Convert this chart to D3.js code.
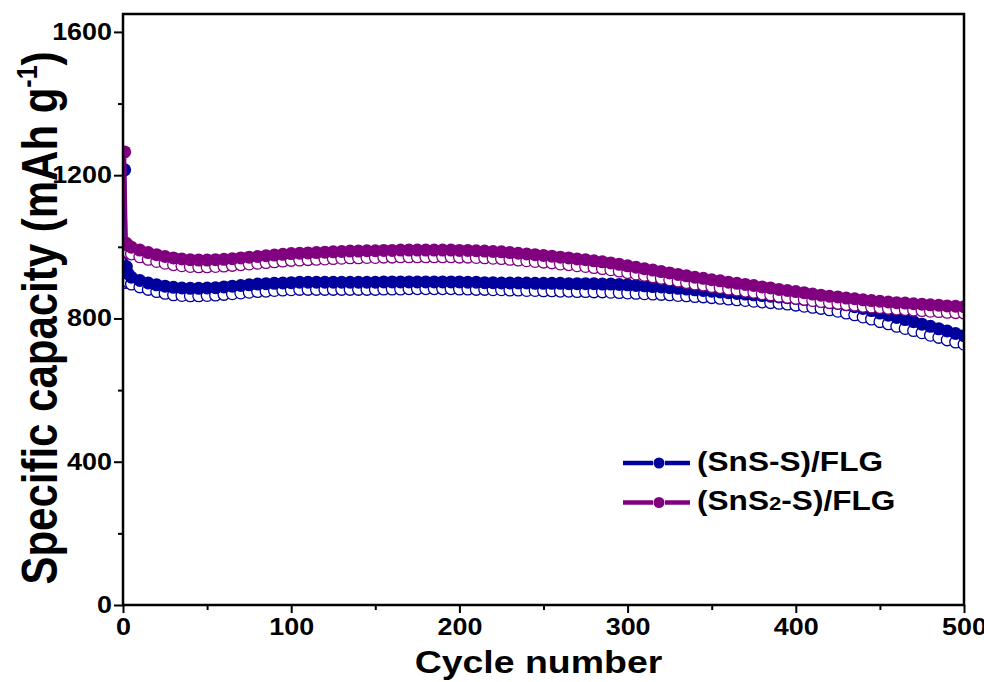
<!DOCTYPE html>
<html>
<head>
<meta charset="utf-8">
<script src="https://cdn.jsdelivr.net/npm/d3@7"></script>
<style>
  body { margin: 0; background: #fff; }
  svg text { font-family: "Liberation Sans", Arial, sans-serif; font-weight: bold; fill: #000; }
</style>
</head>
<body>
<div id="chart"></div>
<script>
// cycle grid (cycles 1,2,3 then every 5th cycle)
const cycles = [1, 2, 3].concat(d3.range(5, 501, 5));

// (SnS-S)/FLG, filled symbols
const snsFilled = [1215,945,925,915,906,899,894,890,887,885,884,884,
  885,886,888,890,892,894,896,897,898,899,
  900,901,901,901,901,901,901,901,901,901,
  901,902,902,902,902,902,902,902,902,902,
  902,901,901,900,900,899,899,899,899,898,
  898,898,898,897,897,897,897,896,896,895,
  894,892,891,889,888,886,884,882,880,878,
  876,874,872,870,868,866,864,862,860,858,
  856,853,851,848,845,842,838,833,828,822,
  815,809,803,797,791,784,778,771,765,758,
  752];

// (SnS-S)/FLG, open symbols
const snsOpen = [900,905,902,896,888,881,875,870,866,864,863,863,
  864,865,867,869,871,873,875,876,878,879,
  880,881,881,881,881,881,881,881,881,881,
  881,882,882,882,883,883,883,883,883,883,
  882,882,881,881,880,880,879,879,878,878,
  877,877,876,876,875,875,874,874,873,872,
  871,870,869,868,867,866,864,863,861,860,
  858,856,854,852,850,848,846,844,842,840,
  837,834,831,828,824,820,815,810,804,798,
  791,785,778,772,766,760,753,747,740,734,
  728];

// (SnS2-S)/FLG, filled symbols
const sns2Filled = [1265,1010,1004,999,991,984,978,973,969,966,964,963,
  963,964,965,967,969,971,973,975,977,979,
  981,982,983,984,985,986,987,988,988,989,
  989,990,990,991,991,991,991,991,991,991,
  990,990,989,988,987,986,984,982,980,978,
  976,974,971,969,966,964,961,958,955,951,
  947,943,939,935,931,927,923,919,915,912,
  908,905,901,898,895,892,888,885,881,878,
  875,872,868,865,862,860,857,855,852,850,
  848,846,844,843,841,840,838,837,835,834,
  833];

// (SnS2-S)/FLG, open symbols
const sns2Open = [985,990,985,980,972,965,959,954,950,947,945,944,
  944,945,946,948,950,952,954,956,958,960,
  962,963,964,965,966,967,968,969,969,970,
  970,971,971,972,972,972,972,972,972,972,
  971,971,970,969,968,967,965,963,961,959,
  957,955,952,950,947,945,942,939,936,932,
  928,924,920,916,912,908,904,900,896,893,
  889,886,882,879,876,873,869,866,862,859,
  856,853,850,847,844,842,839,837,834,832,
  830,828,826,825,823,822,820,819,817,816,
  815];

const yMajor = [0, 400, 800, 1200, 1600];
const yMinor = [200, 600, 1000, 1400];
const xMajor = [0, 100, 200, 300, 400, 500];
const xMinor = [50, 150, 250, 350, 450];

const blue = '#00009c';
const purple = '#800080';
const stretchX = 1.17;

const width = 984;
const height = 682;
const plotL = 123, plotR = 964, plotT = 14, plotB = 605;

const svg = d3.select('#chart')
  .append('svg')
  .attr('width', width)
  .attr('height', height);

const x = d3.scaleLinear().domain([0, 500]).range([plotL, plotR]);
const y = d3.scaleLinear().domain([0, 1650]).range([plotB, plotT]);

// widen text horizontally like the original picture
function stretch(sel) {
  sel.each(function() {
    const w = this.getComputedTextLength();
    d3.select(this).attr('textLength', w * stretchX).attr('lengthAdjust', 'spacingAndGlyphs');
  });
}

svg.append('clipPath').attr('id', 'clip')
  .append('rect')
  .attr('x', plotL).attr('y', plotT)
  .attr('width', plotR - plotL).attr('height', plotB - plotT);

const plot = svg.append('g').attr('clip-path', 'url(#clip)');

const line = d3.line()
  .x((d, i) => x(cycles[i]))
  .y(d => y(d));

function drawSeries(vals, color, filled) {
  if (filled) {
    plot.append('path')
      .datum(vals)
      .attr('d', line)
      .attr('fill', 'none')
      .attr('stroke', color)
      .attr('stroke-width', 3);
  }
  plot.append('g')
    .selectAll('circle')
    .data(vals)
    .enter().append('circle')
    .attr('cx', (d, i) => x(cycles[i]))
    .attr('cy', d => y(d))
    .attr('r', filled ? 6.5 : 5.8)
    .attr('fill', filled ? color : '#fff')
    .attr('stroke', color)
    .attr('stroke-width', filled ? 0 : 1.3);
}

drawSeries(snsOpen, blue, false);
drawSeries(snsFilled, blue, true);
drawSeries(sns2Open, purple, false);
drawSeries(sns2Filled, purple, true);

// axes
svg.append('g')
  .attr('transform', `translate(${plotL},0)`)
  .call(d3.axisLeft(y).tickValues(yMajor).tickSize(9).tickPadding(2).tickFormat(d3.format('d')));
svg.append('g')
  .attr('transform', `translate(${plotL},0)`)
  .call(d3.axisLeft(y).tickValues(yMinor).tickSize(5).tickFormat(''));
svg.append('g')
  .attr('transform', `translate(0,${plotB})`)
  .call(d3.axisBottom(x).tickValues(xMajor).tickSize(8).tickPadding(6).tickFormat(d3.format('d')));
svg.append('g')
  .attr('transform', `translate(0,${plotB})`)
  .call(d3.axisBottom(x).tickValues(xMinor).tickSize(5).tickFormat(''));

svg.selectAll('.domain').remove();
svg.selectAll('.tick line').attr('stroke', '#000').attr('stroke-width', 2);
svg.selectAll('.tick text')
  .style('font-family', '"Liberation Sans", Arial, sans-serif')
  .style('font-weight', 'bold')
  .attr('font-size', 23)
  .call(stretch);

// frame
svg.append('rect')
  .attr('x', plotL).attr('y', plotT)
  .attr('width', plotR - plotL).attr('height', plotB - plotT)
  .attr('fill', 'none')
  .attr('stroke', '#000')
  .attr('stroke-width', 2.5);

// axis titles
svg.append('text')
  .attr('x', (plotL + plotR) / 2 - 5)
  .attr('y', 673)
  .attr('text-anchor', 'middle')
  .attr('font-size', 32)
  .text('Cycle number')
  .call(stretch);

const yTitle = svg.append('text')
  .attr('transform', `translate(57,318) rotate(-90) scale(1,${stretchX})`)
  .attr('text-anchor', 'middle')
  .attr('font-size', 42);
yTitle.append('tspan').text('Specific capacity (mAh g');
yTitle.append('tspan').attr('font-size', 25).attr('dy', -17).text('-1');
yTitle.append('tspan').attr('dy', 17).text(')');

// legend
const legendItems = [
  { color: blue, parts: ['(SnS-S)/FLG'] },
  { color: purple, parts: ['(SnS', '2', '-S)/FLG'] }
];
const legend = svg.append('g');
legendItems.forEach((item, i) => {
  const ly = 463 + i * 39.5;
  const g = legend.append('g');
  g.append('line').attr('x1', 623).attr('x2', 653).attr('y1', ly).attr('y2', ly)
    .attr('stroke', item.color).attr('stroke-width', 4.5);
  g.append('line').attr('x1', 665).attr('x2', 690).attr('y1', ly).attr('y2', ly)
    .attr('stroke', item.color).attr('stroke-width', 4.5);
  g.append('circle').attr('cx', 659).attr('cy', ly).attr('r', 5.5).attr('fill', item.color);
  const t = g.append('text')
    .attr('x', 697)
    .attr('y', ly + 7.5)
    .attr('font-size', 27);
  if (item.parts.length === 1) {
    t.text(item.parts[0]);
  } else {
    t.append('tspan').text(item.parts[0]);
    t.append('tspan').attr('font-size', 19).text(item.parts[1]);
    t.append('tspan').text(item.parts[2]);
  }
  t.call(stretch);
});
</script>
</body>
</html>
